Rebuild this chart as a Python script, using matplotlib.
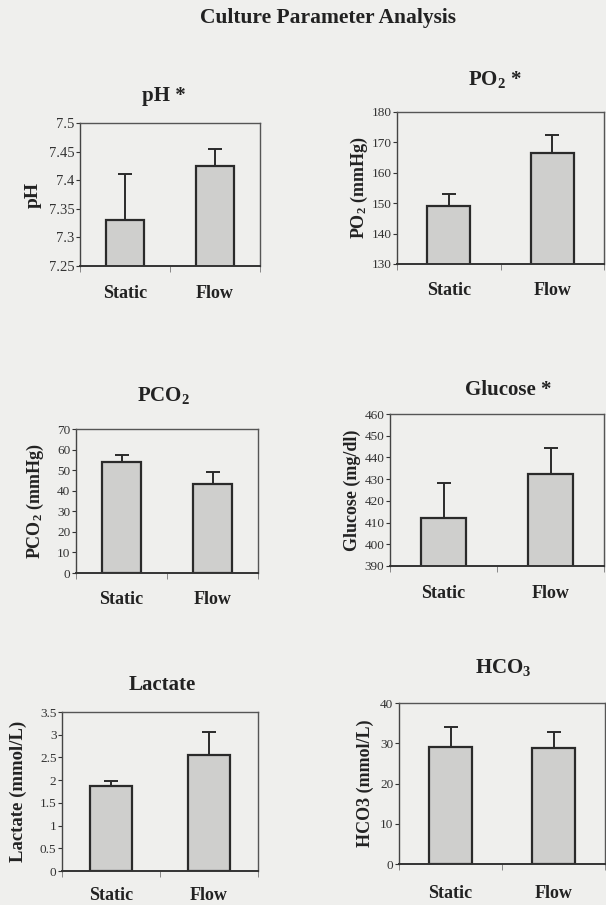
import numpy as np
import matplotlib
matplotlib.use("Agg")
import matplotlib.pyplot as plt

plt.rcParams['font.family'] = ['Liberation Serif', 'DejaVu Serif']
plt.rcParams['mathtext.fontset'] = 'custom'
plt.rcParams['mathtext.rm'] = 'Liberation Serif:bold'
plt.rcParams['mathtext.it'] = 'Liberation Serif:bold'
plt.rcParams['mathtext.bf'] = 'Liberation Serif:bold'

groups = ['Static', 'Flow']

ph_mean = [7.33, 7.425]
ph_err = [0.08, 0.03]
po2_mean = [149, 166.5]
po2_err = [4, 6]
pco2_mean = [54, 43.5]
pco2_err = [3.5, 5.5]
glu_mean = [412, 432.5]
glu_err = [16, 12]
lac_mean = [1.88, 2.55]
lac_err = [0.1, 0.5]
hco3_mean = [29, 28.7]
hco3_err = [5, 4]

W, H = 606, 905
fig = plt.figure(figsize=(W / 100, H / 100), dpi=100)
fig.patch.set_facecolor('#efefed')

# means, errs, ylim, yticks, ticklabels, title, ylabel, box px (x0, x1, ytop, ybot),
# title px, ylabel x (axes frac), tick size, ylabel size, category label y px
panels = [
    (ph_mean, ph_err, (7.25, 7.5), [7.25, 7.3, 7.35, 7.4, 7.45, 7.5],
     ['7.25', '7.3', '7.35', '7.4', '7.45', '7.5'], 'pH *', 'pH',
     (80, 260, 123, 266), (164, 96), -0.26, 10.5, 14, 293),
    (po2_mean, po2_err, (130, 180), [130, 140, 150, 160, 170, 180],
     None, 'PO$_2$ *', 'PO$_2$ (mmHg)',
     (397, 604, 112, 264), (495, 79), -0.18, 9.5, 13, 290),
    (pco2_mean, pco2_err, (0, 70), [0, 10, 20, 30, 40, 50, 60, 70],
     None, 'PCO$_2$', 'PCO$_2$ (mmHg)',
     (76, 258, 429, 573), (163, 395), -0.225, 9.5, 13, 600),
    (glu_mean, glu_err, (390, 460), [390, 400, 410, 420, 430, 440, 450, 460],
     None, 'Glucose *', 'Glucose (mg/dl)',
     (390, 604, 414, 566), (508, 390), -0.178, 9.5, 13, 593),
    (lac_mean, lac_err, (0, 3.5), [0, 0.5, 1, 1.5, 2, 2.5, 3, 3.5],
     ['0', '0.5', '1', '1.5', '2', '2.5', '3', '3.5'], 'Lactate', 'Lactate (mmol/L)',
     (62, 258, 712, 871), (162, 685), -0.224, 9.5, 13.5, 895),
    (hco3_mean, hco3_err, (0, 40), [0, 10, 20, 30, 40],
     None, 'HCO$_3$', 'HCO3 (mmol/L)',
     (399, 605, 703, 864), (503, 667), -0.165, 9.5, 13, 893),
]

for (means, errs, ylim, yt, ytl, title, ylab, box, tpos, labx, tsize, lsize,
     caty) in panels:
    x0, x1, yt0, yb0 = box
    ax = fig.add_axes([x0 / W, 1 - yb0 / H, (x1 - x0) / W, (yb0 - yt0) / H])
    ax.set_facecolor('none')
    x = np.arange(len(groups))
    ax.bar(x, means, width=0.42, color='#cfcfcd', edgecolor='#2a2a2a', linewidth=1.6,
           zorder=2)
    ax.errorbar(x, means, yerr=[np.zeros(len(errs)), errs], fmt='none', ecolor='#2a2a2a',
                elinewidth=1.4, capsize=5, capthick=1.4, zorder=3)
    ax.set_xlim(-0.5, 1.5)
    ax.set_ylim(*ylim)
    ax.set_yticks(yt)
    if ytl is not None:
        ax.set_yticklabels(ytl)
    ax.tick_params(axis='y', direction='out', length=3, width=0.8, labelsize=tsize,
                   pad=1, colors='#333333')
    ax.set_xticks([-0.5, 0.5, 1.5])
    ax.set_xticklabels([])
    ax.tick_params(axis='x', direction='out', length=4, width=0.6, colors='#777777')
    for i, g in enumerate(groups):
        fig.text((x0 + (x1 - x0) * (i + 0.5) / 2) / W, 1 - caty / H, g,
                 ha='center', va='center', fontsize=13, fontweight='bold', color='#222222')
    ax.set_ylabel(ylab, fontsize=lsize, fontweight='bold', color='#222222')
    ax.yaxis.set_label_coords(labx, 0.5)
    ax.yaxis.label.set_verticalalignment('center')
    ax.spines['left'].set_color('#444444')
    ax.spines['bottom'].set_color('#333333')
    ax.spines['bottom'].set_linewidth(1.4)
    ax.spines['left'].set_linewidth(1.0)
    for s in ['top', 'right']:
        ax.spines[s].set_color('#555555')
        ax.spines[s].set_linewidth(1.0)
    fig.text(tpos[0] / W, 1 - tpos[1] / H, title, ha='center', va='center', fontsize=15,
             fontweight='bold', color='#222222')

fig.text(328 / W, 1 - 18 / H, 'Culture Parameter Analysis', ha='center', va='center',
         fontsize=15.5, fontweight='bold', color='#222222')

fig.savefig('out.png', dpi=100, facecolor=fig.get_facecolor())
